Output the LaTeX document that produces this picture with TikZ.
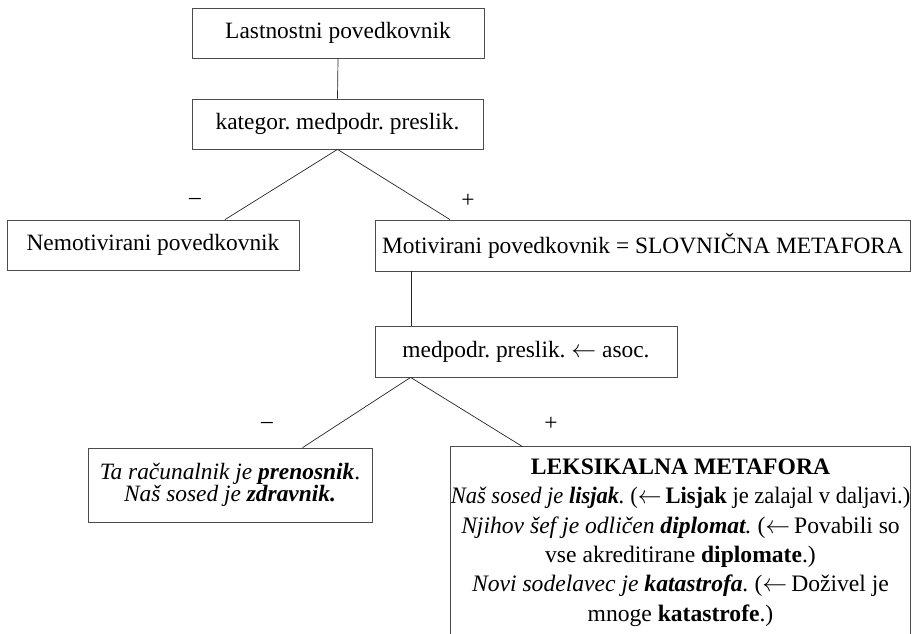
\documentclass[tikz,border=0pt]{standalone}
\usepackage{fontspec}
\setmainfont{Liberation Serif}
\frenchspacing
\newcommand{\bi}[1]{\textbf{\textit{#1}}}
\newcommand{\larr}{\ensuremath{\leftarrow}}
\begin{document}
\begin{tikzpicture}[x=1pt,y=-1pt,
  box/.style={draw=black!70, line width=0.8pt, inner sep=0pt, align=center,
    font=\fontsize{23.4}{29}\selectfont},
  openbox/.style={inner sep=0pt, align=center, font=\fontsize{23.6}{29.3}\selectfont},
  link/.style={draw=black!85, line width=0.7pt},
  sign/.style={inner sep=0pt, font=\fontsize{23.4}{29}\selectfont}]
\useasboundingbox (0,0) rectangle (913,634);

% upper part of the tree
\node[box, minimum width=292pt, minimum height=50pt] (b1) at (338,33) {Lastnostni povedkovnik};
\node[box, minimum width=291pt, minimum height=50pt] (b2) at (337.5,124) {kategor. medpodr. preslik.};
\node[box, minimum width=292pt, minimum height=50pt] (b3) at (153,245) {Nemotivirani povedkovnik};
\node[box, minimum width=535pt, minimum height=51pt] (b4) at (642.5,245.5) {Motivirani povedkovnik = SLOVNIČNA METAFORA};

\draw[link] (b1.south) -- (b2.north);
\draw[link] (b2.south) -- ([xshift=72pt]b3.north);
\draw[link] (b2.south) -- ([xshift=-192.5pt]b4.north);
\node[sign] (m1) at (195,201) {–};
\node[sign] (p1) at (468,201) {+};

% lower part of the tree
\node[box, minimum width=302pt, minimum height=51pt] (b5) at (526,351.5) {medpodr. preslik. \larr{} asoc.};
\draw[link] ([xshift=37pt]b4.south west) -- ([xshift=37pt]b5.north west);

\node[box, minimum width=284pt, minimum height=74pt,
  font=\fontsize{23.4}{22}\selectfont] (b6) at (230,485)
  {\textit{Ta računalnik je \bi{prenosnik}}.\\ \textit{Naš sosed je \bi{zdravnik.}}};

% box open at the bottom: fixed frame, text set on top of it
\node[minimum width=459pt, minimum height=187pt, inner sep=0pt] (b7) at (680.5,540.5) {};
\draw[draw=black!70, line width=0.8pt] (b7.south west) -- (b7.north west) -- (b7.north east) -- (b7.south east);
\node[openbox, yshift=-2pt] (t7) at (b7.center)
  {\textbf{LEKSIKALNA METAFORA}\\
   \scalebox{0.955}[1]{\textit{Naš sosed je \bi{lisjak}.} (\larr{}\,\textbf{Lisjak} je zalajal v daljavi.)}\\
   \textit{Njihov šef je odličen \bi{diplomat}.} (\larr{}\,Povabili so\\
   vse akreditirane \textbf{diplomate}.)\\
   \textit{Novi sodelavec je \bi{katastrofa}.} (\larr{}\,Doživel je\\
   mnoge \textbf{katastrofe}.)};

\draw[link] ([xshift=36pt]b5.south west) -- ([xshift=215pt]b6.north west);
\draw[link] ([xshift=36pt]b5.south west) -- ([xshift=72pt]b7.north west);
\node[sign] (m2) at (267,425) {–};
\node[sign] (p2) at (551,424) {+};
\end{tikzpicture}
\end{document}
